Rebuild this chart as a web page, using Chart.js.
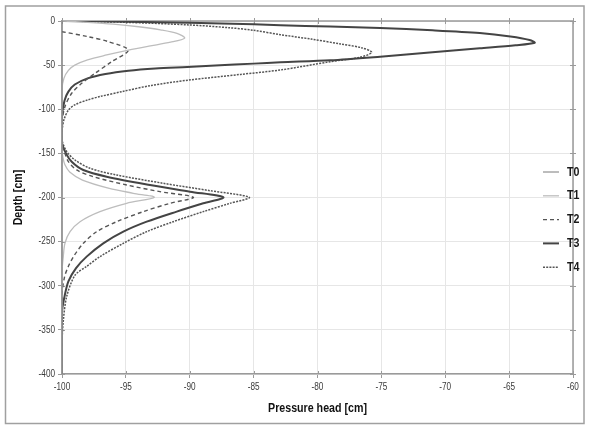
<!DOCTYPE html>
<html><head><meta charset="utf-8">
<script src="https://cdn.jsdelivr.net/npm/chart.js@4/dist/chart.umd.min.js"></script>
<style>html,body{margin:0;padding:0;background:#fff}#wrap{width:589px;height:429px;position:relative}</style>
</head><body><div id="wrap"><canvas id="c" width="589" height="429"></canvas></div>
<script>
// ---- data (pressure head [cm], depth [cm]) ----
const seriesLabels = ['T0', 'T1', 'T2', 'T3', 'T4'];
const xTickValues = [-100, -95, -90, -85, -80, -75, -70, -65, -60];
const yTickValues = [0, -50, -100, -150, -200, -250, -300, -350, -400];
const xTitle = 'Pressure head [cm]';
const yTitle = 'Depth [cm]';

const t0 = [[-100, 0], [-100, -400]];

const t1 = [[-100, 0], [-98, -1.5], [-96, -3.5], [-94, -6.5], [-92.3, -10], [-91, -14], [-90.4, -19.3],
  [-91.5, -24], [-93.2, -28.5], [-94.8, -33], [-96.5, -38.5], [-98, -44], [-99, -50], [-99.5, -56],
  [-99.85, -65], [-100, -78], [-100, -145], [-99.92, -155], [-99.77, -163], [-99.4, -171],
  [-98.4, -180.2], [-96.3, -189.6], [-94.42, -195.2], [-92.78, -199.8], [-94.94, -206.6],
  [-97.03, -216], [-98.59, -227.4], [-99.37, -238.7], [-99.77, -251.9], [-99.9, -267], [-100, -285], [-100, -400]];

const t2 = [[-100, -12.1], [-97.94, -17.8], [-96.38, -23.4], [-94.81, -32.9], [-96.11, -46.1],
  [-97.42, -59.3], [-98.46, -70.6], [-99.24, -81.9], [-99.77, -97.1], [-100, -115], [-100, -140],
  [-99.77, -150], [-99.5, -159.4], [-98.85, -168.8], [-97.55, -176.4], [-94.94, -185.8],
  [-92.33, -193.4], [-89.72, -199.8], [-91.55, -206.6], [-93.64, -216], [-95.72, -227.4],
  [-97.28, -238.7], [-98.33, -251.9], [-99.1, -267], [-99.5, -278], [-99.8, -290], [-100, -310], [-100, -400]];

const t3 = [[-100, 0], [-95, -0.8], [-90, -2], [-85, -3.8], [-82.9, -4.9], [-79, -6.3], [-75.1, -8],
  [-71, -10.5], [-67.3, -13.6], [-64.9, -17.5], [-63.4, -21.5], [-63, -24.6], [-64.5, -27.5],
  [-67.3, -31], [-71, -35.5], [-75.1, -40.4], [-79, -44.5], [-82.9, -46.8], [-85, -48.3], [-88, -50.3],
  [-90.2, -52], [-92.7, -53.8], [-94.8, -56.3], [-96.6, -60], [-98, -65], [-99, -72], [-99.5, -80],
  [-99.8, -90], [-100, -108], [-100, -138], [-99.69, -150], [-99.24, -159.4], [-98.33, -168.8],
  [-96.5, -176.4], [-93.11, -185.8], [-89.98, -193.4], [-87.37, -199.8], [-88.94, -206.6],
  [-91.02, -216], [-93.37, -227.4], [-95.2, -238.7], [-96.77, -251.9], [-98.07, -267], [-98.9, -280],
  [-99.5, -295], [-99.8, -312], [-100, -330], [-100, -400]];

const t4 = [[-100, 0], [-95, -1.5], [-90, -4.5], [-87, -7.5], [-85, -10.5], [-82.9, -15.5], [-80.5, -20.5],
  [-78.2, -26], [-76.5, -30.5], [-75.76, -35.5], [-76.7, -41.2], [-79, -46.1], [-82.9, -55.5],
  [-86, -60.5], [-90.1, -67], [-93, -73], [-95.3, -80], [-97, -85.5], [-98, -89.5], [-99, -95],
  [-99.5, -101], [-99.85, -112], [-100, -125], [-100, -135], [-99.63, -148], [-98.98, -157.5],
  [-97.81, -166.9], [-95.72, -174.5], [-92.07, -183.9], [-88.41, -192.3], [-85.34, -199.8],
  [-86.85, -206.6], [-88.94, -216], [-91.29, -227.4], [-93.37, -238.7], [-95.2, -251.9],
  [-97.03, -267], [-98.1, -278.4], [-98.98, -288], [-99.63, -312], [-99.9, -340], [-100, -365], [-100, -400]];

const seriesData = [t0, t1, t2, t3, t4];
const seriesColors = ['#7a7a7a', '#bdbdbd', '#555555', '#444444', '#555555'];
const seriesWidths = [1, 1.3, 1.4, 2, 1.5];
const seriesDashes = [[], [], [4, 3], [], [2, 1.2]];

const FONT = "'Liberation Sans', Arial, sans-serif";
const NARROW = 0.82;

function narrowText(ctx, text, x, y, font, align, color, rot) {
  ctx.save();
  ctx.translate(x, y);
  if (rot) ctx.rotate(rot);
  ctx.scale(NARROW, 1);
  ctx.font = font;
  ctx.fillStyle = color;
  ctx.textAlign = align;
  ctx.textBaseline = 'middle';
  ctx.fillText(text, 0, 0);
  ctx.restore();
}

const frameAndLegend = {
  id: 'frameAndLegend',
  beforeDraw(chart) {
    const ctx = chart.ctx;
    ctx.save();
    ctx.fillStyle = '#fff';
    ctx.fillRect(0, 0, chart.width, chart.height);
    ctx.strokeStyle = '#a0a0a0';
    ctx.lineWidth = 1.5;
    ctx.strokeRect(5.5, 6, 578.5, 417.5);
    ctx.restore();
  },
  beforeDatasetsDraw(chart) {
    const ctx = chart.ctx, a = chart.chartArea;
    const xs = chart.scales.x, ys = chart.scales.y;
    ctx.save();
    ctx.strokeStyle = '#9a9a9a';
    ctx.lineWidth = 1.5;
    ctx.beginPath();
    ctx.moveTo(a.left, a.top); ctx.lineTo(a.right, a.top); ctx.lineTo(a.right, a.bottom);
    ctx.stroke();
    ctx.lineWidth = 1;
    ctx.beginPath();
    xTickValues.forEach(v => { const px = Math.round(xs.getPixelForValue(v)) + 0.5; ctx.moveTo(px, a.top - 3); ctx.lineTo(px, a.top + 3); ctx.moveTo(px, a.bottom); ctx.lineTo(px, a.bottom - 3); });
    yTickValues.forEach(v => { const py = Math.round(ys.getPixelForValue(v)) + 0.5; ctx.moveTo(a.right - 3, py); ctx.lineTo(a.right + 3, py); ctx.moveTo(a.left, py); ctx.lineTo(a.left + 3, py); });
    ctx.stroke();
    ctx.restore();
    // tick labels and axis titles (narrow text)
    const tf = "10px " + FONT;
    xTickValues.forEach(v => narrowText(ctx, String(v), xs.getPixelForValue(v), a.bottom + 13, tf, 'center', '#3a3a3a'));
    yTickValues.forEach(v => narrowText(ctx, String(v), a.left - 7, ys.getPixelForValue(v), tf, 'right', '#3a3a3a'));
    const bf = "bold 13px " + FONT;
    narrowText(ctx, xTitle, (a.left + a.right) / 2, 408, bf, 'center', '#111');
    narrowText(ctx, yTitle, 18, (a.top + a.bottom) / 2, bf, 'center', '#111', -Math.PI / 2);
  },
  afterDraw(chart) {
    const ctx = chart.ctx, a = chart.chartArea;
    const ys0 = 172, step = 23.8;
    ctx.save();
    chart.data.datasets.forEach((ds, i) => {
      const y = ys0 + i * step;
      ctx.strokeStyle = ds.borderColor;
      ctx.lineWidth = ds.borderWidth;
      ctx.setLineDash(ds.borderDash || []);
      ctx.beginPath();
      ctx.moveTo(a.right - 30, y); ctx.lineTo(a.right - 14, y);
      ctx.stroke();
      ctx.setLineDash([]);
      narrowText(ctx, ds.label, a.right - 6, y, "bold 13px " + FONT, 'left', '#1a1a1a');
    });
    ctx.restore();
  }
};

new Chart(document.getElementById('c'), {
  type: 'scatter',
  data: {
    datasets: seriesLabels.map((lab, i) => ({
      label: lab,
      data: seriesData[i].map(p => ({ x: p[0], y: p[1] })),
      showLine: true,
      borderColor: seriesColors[i],
      backgroundColor: seriesColors[i],
      borderWidth: seriesWidths[i],
      borderDash: seriesDashes[i],
      pointRadius: 0,
      tension: 0.3,
      fill: false
    }))
  },
  options: {
    responsive: false,
    animation: false,
    layout: { padding: { left: 0, right: 16, top: 21, bottom: 0 } },
    plugins: { legend: { display: false }, tooltip: { enabled: false } },
    scales: {
      x: {
        type: 'linear', min: -100, max: -60,
        afterBuildTicks: s => { s.ticks = xTickValues.map(v => ({ value: v })); },
        afterFit: s => { s.height = 55; },
        grid: { color: '#e6e6e6', lineWidth: 1, tickLength: 4, tickColor: '#9a9a9a' },
        border: { color: '#9a9a9a', width: 1.5 },
        ticks: { display: false },
        title: { display: false, text: xTitle }
      },
      y: {
        type: 'linear', min: -400, max: 0,
        afterBuildTicks: s => { s.ticks = yTickValues.map(v => ({ value: v })); },
        afterFit: s => { s.width = 62; },
        grid: { color: '#e6e6e6', lineWidth: 1, tickLength: 4, tickColor: '#9a9a9a' },
        border: { color: '#9a9a9a', width: 1.5 },
        ticks: { display: false },
        title: { display: false, text: yTitle }
      }
    }
  },
  plugins: [frameAndLegend]
});
</script></body></html>
